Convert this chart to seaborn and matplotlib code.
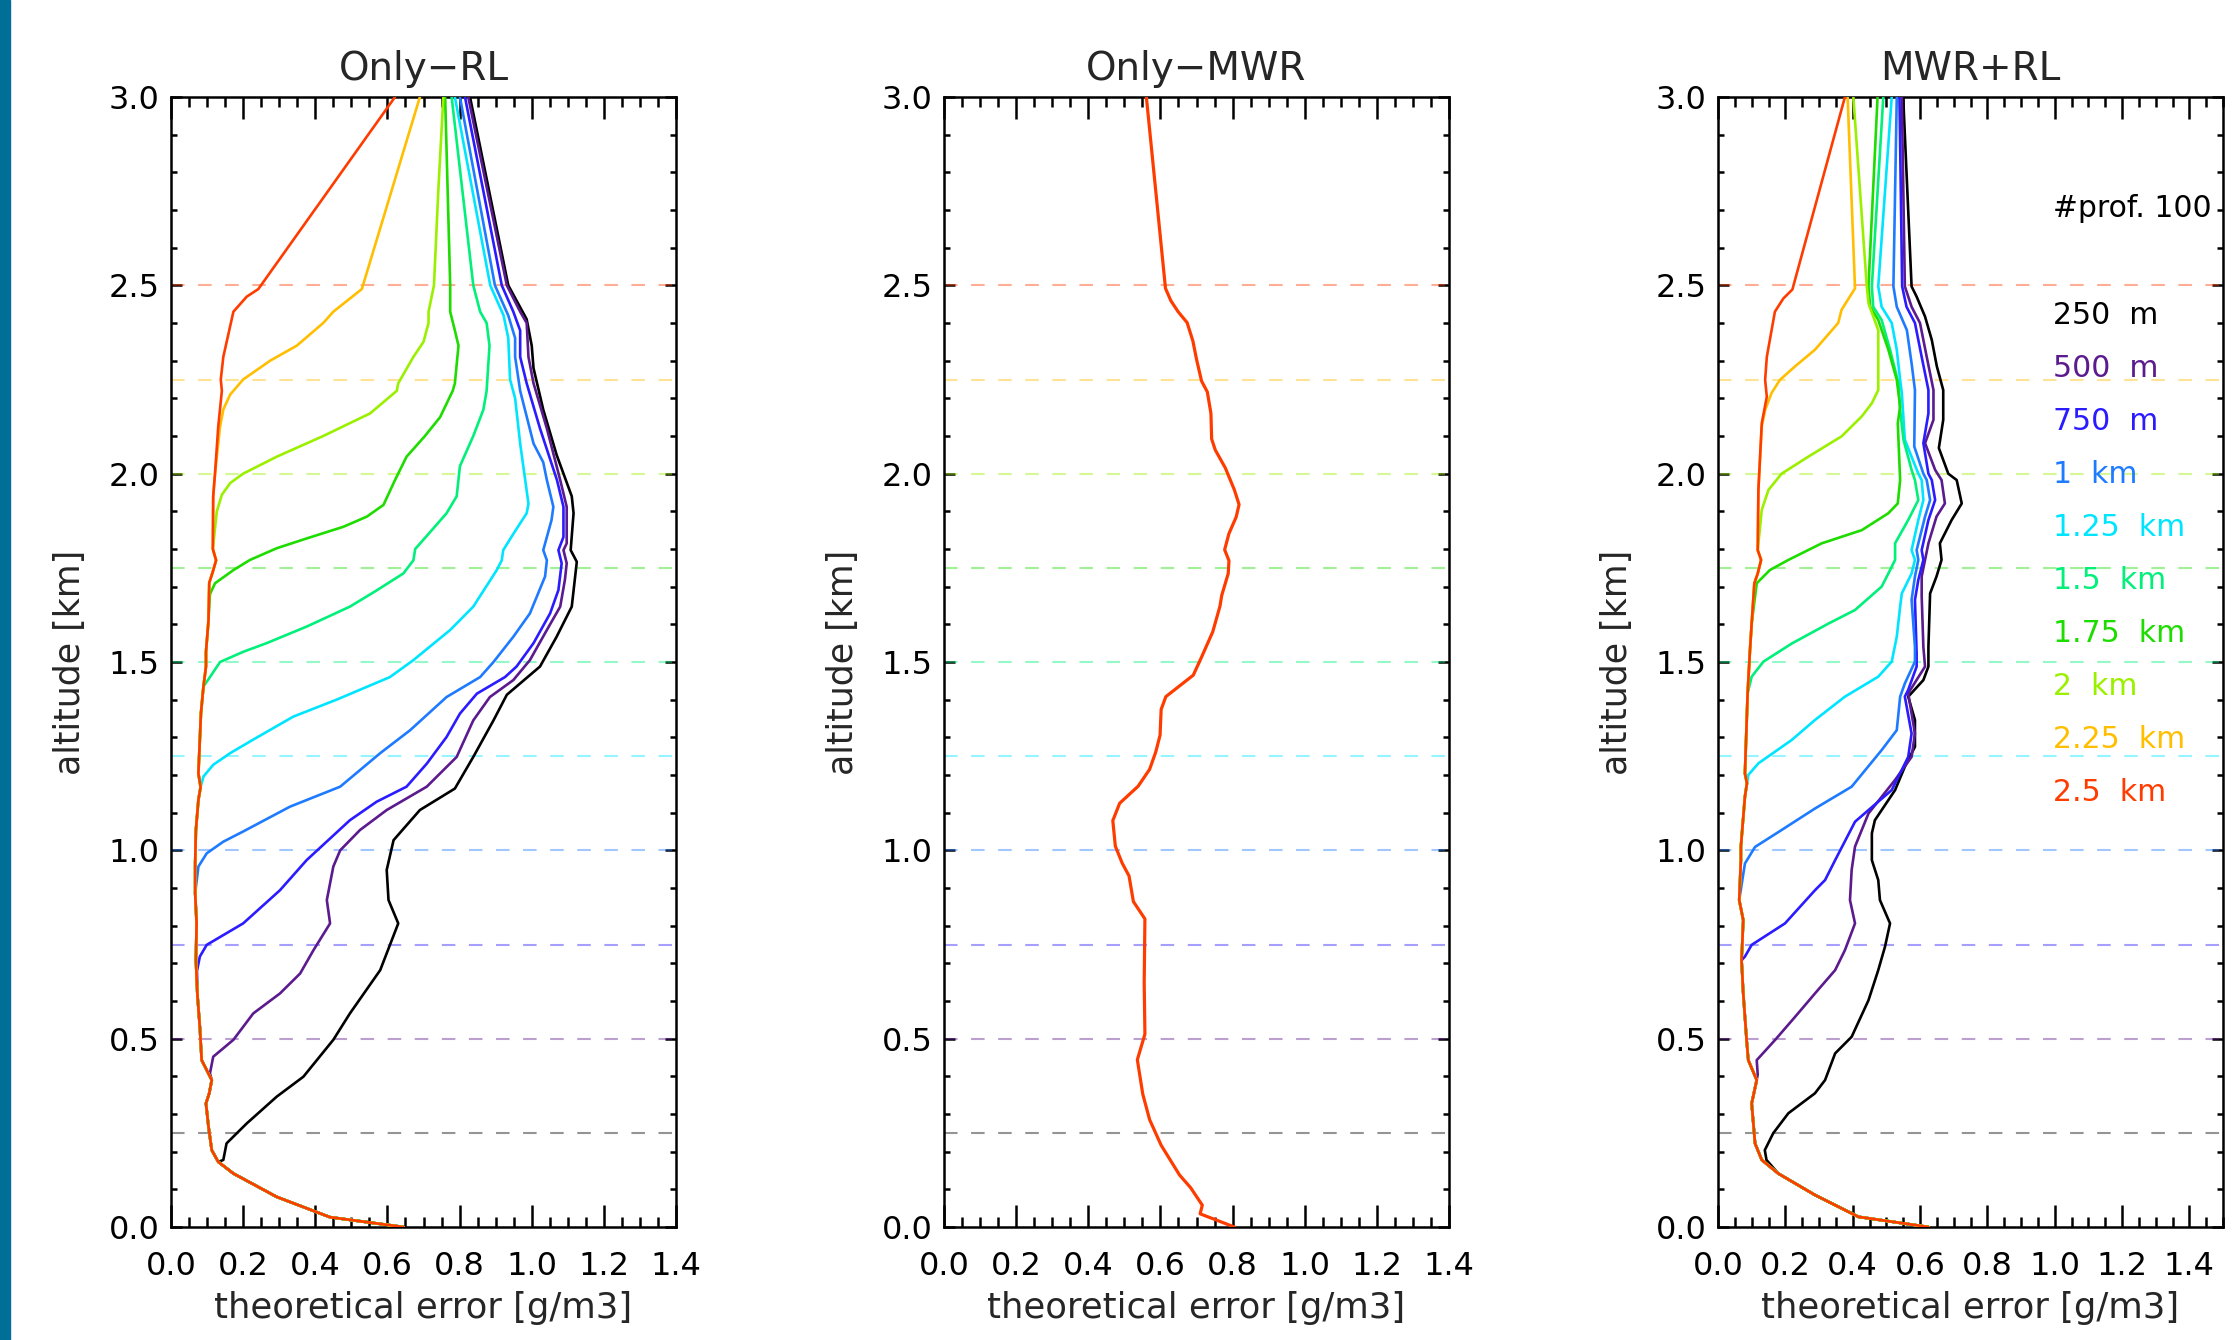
import matplotlib
matplotlib.use("Agg")
import matplotlib.pyplot as plt
from matplotlib.patches import Rectangle
from matplotlib.ticker import MultipleLocator, FormatStrFormatter
import seaborn as sns

# ==========================================
# data
# ==========================================
RES_ALT = [0.25, 0.5, 0.75, 1.0, 1.25, 1.5, 1.75, 2.0, 2.25, 2.5]
RES_LABELS = ["250  m", "500  m", "750  m", "1  km", "1.25  km",
              "1.5  km", "1.75  km", "2  km", "2.25  km", "2.5  km"]
LINE_COLORS = ["#000000", "#5B1A8E", "#2B1BFF", "#1E7BFF", "#00E5FF",
               "#00F07A", "#1EDC00", "#9BF000", "#FFBE00", "#FF3C00"]
N_PROF = 100

# --- Only-RL: low-level profile shared by all runs
RL_BASE_ALT = [0.0, 0.026, 0.08, 0.142, 0.173, 0.204, 0.266, 0.328, 0.355, 0.39, 0.443, 0.53,
               0.62, 0.709, 0.806, 0.886, 0.965, 1.054, 1.134, 1.168, 1.204, 1.364, 1.435,
               1.488, 1.527, 1.611, 1.71, 1.74, 1.77, 1.8, 1.94, 2.0, 2.125, 2.22, 2.25, 2.31]
RL_BASE_ERR = [0.644, 0.441, 0.293, 0.173, 0.131, 0.113, 0.104, 0.097, 0.106, 0.113, 0.085, 0.08,
               0.073, 0.069, 0.071, 0.067, 0.067, 0.069, 0.076, 0.082, 0.076, 0.083, 0.09,
               0.097, 0.097, 0.104, 0.106, 0.116, 0.125, 0.116, 0.117, 0.122, 0.131, 0.141, 0.138, 0.145]

# --- Only-RL: part of each run above the point where it leaves the shared profile
RL_250_ALT = [0.178, 0.222, 0.275, 0.346, 0.399, 0.497, 0.567, 0.682, 0.806, 0.868, 0.948, 1.027,
              1.107, 1.164, 1.248, 1.345, 1.413, 1.488, 1.567, 1.647, 1.766, 1.797, 1.895, 1.94,
              2.05, 2.17, 2.28, 2.34, 2.41, 2.5, 3.0]
RL_250_ERR = [0.145, 0.154, 0.21, 0.293, 0.367, 0.45, 0.496, 0.58, 0.63, 0.603, 0.598, 0.617,
              0.69, 0.787, 0.838, 0.894, 0.931, 1.023, 1.069, 1.111, 1.125, 1.108, 1.116, 1.111,
              1.069, 1.032, 1.005, 1.0, 0.986, 0.935, 0.829]
RL_500_ALT = [0.408, 0.452, 0.497, 0.567, 0.62, 0.673, 0.735, 0.806, 0.868, 0.957, 1.0, 1.054,
              1.107, 1.169, 1.248, 1.345, 1.407, 1.452, 1.505, 1.585, 1.647, 1.718, 1.762, 1.797,
              1.815, 1.912, 1.983, 2.12, 2.24, 2.31, 2.4, 2.43, 2.5, 3.0]
RL_500_ERR = [0.108, 0.117, 0.173, 0.228, 0.302, 0.358, 0.395, 0.441, 0.432, 0.45, 0.469, 0.524,
              0.598, 0.709, 0.792, 0.838, 0.884, 0.949, 0.995, 1.042, 1.079, 1.092, 1.097, 1.088,
              1.097, 1.097, 1.079, 1.042, 1.005, 0.991, 0.986, 0.968, 0.931, 0.824]
RL_750_ALT = [0.68, 0.718, 0.749, 0.806, 0.894, 0.974, 1.08, 1.129, 1.169, 1.23, 1.301, 1.363,
              1.416, 1.46, 1.488, 1.55, 1.629, 1.691, 1.762, 1.797, 1.832, 1.912, 1.983, 2.12,
              2.24, 2.31, 2.38, 2.43, 2.5, 3.0]
RL_750_ERR = [0.072, 0.08, 0.099, 0.2, 0.302, 0.376, 0.496, 0.57, 0.653, 0.709, 0.764, 0.801,
              0.848, 0.926, 0.958, 1.005, 1.051, 1.074, 1.083, 1.074, 1.088, 1.088, 1.07, 1.023,
              0.986, 0.968, 0.968, 0.949, 0.917, 0.815]
RL_1000_ALT = [0.957, 0.992, 1.023, 1.05, 1.116, 1.169, 1.258, 1.319, 1.407, 1.46, 1.5, 1.567,
               1.629, 1.727, 1.77, 1.797, 1.877, 1.912, 1.983, 2.03, 2.08, 2.22, 2.31, 2.36,
               2.42, 2.5, 3.0]
RL_1000_ERR = [0.076, 0.099, 0.145, 0.2, 0.33, 0.469, 0.58, 0.663, 0.764, 0.857, 0.894, 0.949,
               0.995, 1.037, 1.042, 1.032, 1.055, 1.06, 1.042, 1.032, 1.005, 0.968, 0.954, 0.954,
               0.935, 0.898, 0.801]
RL_1250_ALT = [1.196, 1.227, 1.258, 1.294, 1.355, 1.4, 1.46, 1.505, 1.585, 1.647, 1.744, 1.77,
               1.797, 1.84, 1.895, 1.92, 1.983, 2.08, 2.2, 2.25, 2.36, 2.42, 2.5, 3.0]
RL_1250_ERR = [0.09, 0.117, 0.164, 0.228, 0.339, 0.459, 0.607, 0.672, 0.774, 0.838, 0.903, 0.917,
               0.921, 0.949, 0.986, 0.991, 0.982, 0.968, 0.954, 0.94, 0.935, 0.922, 0.885, 0.787]
RL_1500_ALT = [1.46, 1.5, 1.527, 1.55, 1.594, 1.647, 1.69, 1.735, 1.77, 1.8, 1.85, 1.895, 1.94,
               2.02, 2.1, 2.17, 2.22, 2.34, 2.4, 2.43, 2.5, 3.0]
RL_1500_ERR = [0.108, 0.136, 0.2, 0.265, 0.376, 0.496, 0.57, 0.644, 0.672, 0.677, 0.723, 0.764,
               0.792, 0.801, 0.838, 0.866, 0.875, 0.883, 0.875, 0.857, 0.838, 0.778]
RL_1750_ALT = [1.68, 1.709, 1.744, 1.771, 1.802, 1.828, 1.859, 1.886, 1.917, 1.983, 2.045, 2.1,
               2.15, 2.22, 2.24, 2.34, 2.38, 2.43, 2.5, 3.0]
RL_1750_ERR = [0.108, 0.122, 0.173, 0.219, 0.293, 0.376, 0.478, 0.543, 0.589, 0.621, 0.653, 0.704,
               0.746, 0.781, 0.787, 0.797, 0.787, 0.774, 0.774, 0.76]
RL_2000_ALT = [1.9, 1.944, 1.975, 2.0, 2.045, 2.1, 2.16, 2.22, 2.24, 2.31, 2.35, 2.4, 2.43, 2.5,
               2.75, 3.0]
RL_2000_ERR = [0.127, 0.141, 0.164, 0.2, 0.293, 0.422, 0.552, 0.626, 0.63, 0.672, 0.7, 0.714,
               0.714, 0.729, 0.741, 0.755]
RL_2250_ALT = [2.125, 2.17, 2.21, 2.25, 2.3, 2.34, 2.4, 2.43, 2.49, 3.0]
RL_2250_ERR = [0.136, 0.145, 0.164, 0.2, 0.275, 0.349, 0.422, 0.45, 0.529, 0.69]
RL_2500_ALT = [2.43, 2.47, 2.49, 3.0]
RL_2500_ERR = [0.173, 0.21, 0.242, 0.621]

# --- Only-MWR (all runs identical)
MWR_ALT = [0.0, 0.035, 0.058, 0.104, 0.138, 0.217, 0.285, 0.353, 0.444, 0.512, 0.648, 0.818,
           0.864, 0.932, 0.966, 1.011, 1.079, 1.125, 1.17, 1.215, 1.261, 1.306, 1.374, 1.408,
           1.465, 1.513, 1.58, 1.648, 1.677, 1.735, 1.769, 1.798, 1.841, 1.885, 1.918, 1.957,
           2.015, 2.063, 2.092, 2.16, 2.217, 2.246, 2.304, 2.352, 2.401, 2.43, 2.459, 2.492, 3.0]
MWR_ERR = [0.805, 0.71, 0.716, 0.684, 0.653, 0.602, 0.57, 0.551, 0.536, 0.557, 0.555, 0.557,
           0.525, 0.513, 0.494, 0.475, 0.468, 0.487, 0.538, 0.57, 0.587, 0.599, 0.602, 0.615,
           0.691, 0.714, 0.745, 0.765, 0.77, 0.788, 0.79, 0.778, 0.79, 0.81, 0.818, 0.805,
           0.78, 0.752, 0.742, 0.74, 0.73, 0.714, 0.7, 0.69, 0.674, 0.649, 0.629, 0.614, 0.561]

# --- MWR+RL: shared low-level profile
MR_BASE_ALT = [0.0, 0.027, 0.085, 0.142, 0.178, 0.222, 0.328, 0.39, 0.443, 0.496, 0.62, 0.708,
               0.815, 0.868, 0.974, 1.01, 1.143, 1.178, 1.204, 1.417, 1.532, 1.602, 1.709, 1.735,
               1.771, 1.797, 1.957, 2.134, 2.204, 2.249, 2.31]
MR_BASE_ERR = [0.625, 0.417, 0.288, 0.179, 0.13, 0.11, 0.1, 0.115, 0.09, 0.085, 0.075, 0.07,
               0.075, 0.063, 0.068, 0.068, 0.08, 0.086, 0.08, 0.088, 0.095, 0.1, 0.108, 0.118,
               0.128, 0.118, 0.12, 0.13, 0.145, 0.14, 0.145]

MR_250_ALT = [0.178, 0.204, 0.249, 0.302, 0.355, 0.39, 0.461, 0.505, 0.602, 0.682, 0.744, 0.806,
              0.868, 0.921, 0.974, 1.045, 1.08, 1.16, 1.222, 1.275, 1.346, 1.408, 1.452, 1.488,
              1.54, 1.682, 1.727, 1.771, 1.815, 1.877, 1.921, 1.983, 2.0, 2.068, 2.143, 2.222,
              2.285, 2.355, 2.417, 2.47, 2.497, 3.0]
MR_250_ERR = [0.144, 0.139, 0.164, 0.209, 0.288, 0.318, 0.348, 0.397, 0.447, 0.476, 0.496, 0.511,
              0.481, 0.476, 0.457, 0.457, 0.466, 0.526, 0.555, 0.585, 0.585, 0.565, 0.61, 0.625,
              0.625, 0.63, 0.649, 0.664, 0.659, 0.694, 0.724, 0.709, 0.684, 0.656, 0.669, 0.669,
              0.65, 0.635, 0.615, 0.59, 0.575, 0.55]
MR_500_ALT = [0.405, 0.443, 0.496, 0.558, 0.62, 0.682, 0.735, 0.806, 0.868, 0.948, 1.01, 1.098,
              1.187, 1.248, 1.31, 1.363, 1.417, 1.488, 1.54, 1.674, 1.727, 1.793, 1.815, 1.886,
              1.921, 1.983, 2.01, 2.081, 2.143, 2.222, 2.31, 2.4, 2.443, 2.497, 3.0]
MR_500_ERR = [0.118, 0.115, 0.169, 0.229, 0.288, 0.348, 0.377, 0.407, 0.392, 0.397, 0.407, 0.447,
              0.526, 0.575, 0.585, 0.575, 0.565, 0.615, 0.61, 0.605, 0.605, 0.62, 0.625, 0.649,
              0.674, 0.664, 0.645, 0.615, 0.64, 0.64, 0.62, 0.6, 0.575, 0.555, 0.546]
MR_750_ALT = [0.718, 0.749, 0.806, 0.894, 0.921, 0.974, 1.076, 1.16, 1.248, 1.31, 1.408, 1.426,
              1.488, 1.523, 1.665, 1.718, 1.771, 1.797, 1.877, 1.93, 1.983, 2.0, 2.081, 2.16,
              2.222, 2.31, 2.4, 2.443, 2.497, 3.0]
MR_750_ERR = [0.08, 0.1, 0.199, 0.288, 0.318, 0.348, 0.407, 0.516, 0.565, 0.575, 0.555, 0.565,
              0.59, 0.59, 0.585, 0.595, 0.61, 0.605, 0.625, 0.645, 0.635, 0.625, 0.61, 0.625,
              0.625, 0.605, 0.585, 0.56, 0.547, 0.539]
MR_1000_ALT = [0.965, 1.009, 1.054, 1.111, 1.169, 1.266, 1.319, 1.408, 1.443, 1.501, 1.54, 1.665,
               1.727, 1.771, 1.797, 1.886, 1.93, 1.983, 2.0, 2.072, 2.222, 2.293, 2.381, 2.443,
               2.497, 3.0]
MR_1000_ERR = [0.08, 0.11, 0.189, 0.288, 0.397, 0.486, 0.531, 0.541, 0.555, 0.585, 0.585, 0.575,
               0.585, 0.595, 0.59, 0.615, 0.63, 0.62, 0.61, 0.583, 0.585, 0.575, 0.561, 0.531,
               0.521, 0.531]
MR_1250_ALT = [1.2, 1.231, 1.293, 1.346, 1.408, 1.461, 1.501, 1.567, 1.647, 1.682, 1.735, 1.771,
               1.797, 1.877, 1.93, 1.983, 2.0, 2.09, 2.214, 2.249, 2.329, 2.4, 2.443, 2.497, 3.0]
MR_1250_ERR = [0.09, 0.12, 0.219, 0.288, 0.377, 0.476, 0.516, 0.531, 0.541, 0.546, 0.575, 0.585,
               0.575, 0.595, 0.61, 0.605, 0.595, 0.555, 0.546, 0.541, 0.531, 0.516, 0.486, 0.476,
               0.516]
MR_1500_ALT = [1.461, 1.501, 1.549, 1.602, 1.638, 1.7, 1.735, 1.771, 1.815, 1.877, 1.93, 1.983,
               2.01, 2.09, 2.169, 2.24, 2.329, 2.408, 2.443, 2.497, 3.0]
MR_1500_ERR = [0.1, 0.135, 0.219, 0.328, 0.407, 0.486, 0.506, 0.526, 0.526, 0.565, 0.595, 0.585,
               0.575, 0.551, 0.541, 0.536, 0.511, 0.486, 0.461, 0.457, 0.491]
MR_1750_ALT = [1.709, 1.744, 1.771, 1.815, 1.85, 1.895, 1.921, 1.983, 2.134, 2.178, 2.249, 2.329,
               2.408, 2.443, 2.497, 3.0]
MR_1750_ERR = [0.115, 0.154, 0.209, 0.308, 0.427, 0.506, 0.534, 0.541, 0.534, 0.541, 0.531, 0.506,
               0.476, 0.452, 0.447, 0.474]
MR_2000_ALT = [1.904, 1.957, 2.0, 2.045, 2.099, 2.152, 2.187, 2.222, 2.381, 2.452, 2.497, 3.0]
MR_2000_ERR = [0.13, 0.15, 0.189, 0.268, 0.367, 0.427, 0.457, 0.476, 0.476, 0.447, 0.442, 0.402]
MR_2250_ALT = [2.125, 2.169, 2.214, 2.249, 2.285, 2.329, 2.4, 2.435, 2.492, 3.0]
MR_2250_ERR = [0.13, 0.14, 0.159, 0.184, 0.229, 0.288, 0.357, 0.367, 0.407, 0.385]
MR_2500_ALT = [2.43, 2.465, 2.489, 3.0]
MR_2500_ERR = [0.169, 0.194, 0.221, 0.377]

RL_SEGMENTS = [(RL_250_ALT, RL_250_ERR), (RL_500_ALT, RL_500_ERR), (RL_750_ALT, RL_750_ERR),
               (RL_1000_ALT, RL_1000_ERR), (RL_1250_ALT, RL_1250_ERR), (RL_1500_ALT, RL_1500_ERR),
               (RL_1750_ALT, RL_1750_ERR), (RL_2000_ALT, RL_2000_ERR), (RL_2250_ALT, RL_2250_ERR),
               (RL_2500_ALT, RL_2500_ERR)]
MR_SEGMENTS = [(MR_250_ALT, MR_250_ERR), (MR_500_ALT, MR_500_ERR), (MR_750_ALT, MR_750_ERR),
               (MR_1000_ALT, MR_1000_ERR), (MR_1250_ALT, MR_1250_ERR), (MR_1500_ALT, MR_1500_ERR),
               (MR_1750_ALT, MR_1750_ERR), (MR_2000_ALT, MR_2000_ERR), (MR_2250_ALT, MR_2250_ERR),
               (MR_2500_ALT, MR_2500_ERR)]


def join_profile(base_alt, base_err, seg_alt, seg_err):
    """shared low part + run-specific upper part"""
    keep = [i for i, a in enumerate(base_alt) if a < seg_alt[0]]
    return ([base_alt[i] for i in keep] + seg_alt,
            [base_err[i] for i in keep] + seg_err)


# ==========================================
# style
# ==========================================
sns.set_style("ticks")
plt.rcParams['font.family'] = ['DejaVu Sans']
plt.rcParams['axes.edgecolor'] = 'black'
plt.rcParams['axes.linewidth'] = 1.8
plt.rcParams['xtick.color'] = 'black'
plt.rcParams['ytick.color'] = 'black'

W, H = 2232, 1340
fig = plt.figure(figsize=(W / 100, H / 100), dpi=100)
fig.patches.append(Rectangle((0, 0), 10 / W, 1, transform=fig.transFigure,
                             color="#006F98", zorder=0))

AX_LEFT_PX = [171, 944, 1718]
AX_W_PX, AX_BOTTOM_PX, AX_H_PX = 505, 113, 1130
TITLES = ["Only\u2212RL", "Only\u2212MWR", "MWR+RL"]
XMAX = [1.4, 1.4, 1.5]

axes = []
for left, title, xmax in zip(AX_LEFT_PX, TITLES, XMAX):
    ax = fig.add_axes([left / W, AX_BOTTOM_PX / H, AX_W_PX / W, AX_H_PX / H])
    ax.set_xlim(0, xmax)
    ax.set_ylim(0, 3.0)
    ax.xaxis.set_major_locator(MultipleLocator(0.2))
    ax.xaxis.set_minor_locator(MultipleLocator(0.05))
    ax.yaxis.set_major_locator(MultipleLocator(0.5))
    ax.yaxis.set_minor_locator(MultipleLocator(0.1))
    ax.xaxis.set_major_formatter(FormatStrFormatter('%.1f'))
    ax.yaxis.set_major_formatter(FormatStrFormatter('%.1f'))
    ax.tick_params(axis='x', which='major', direction='in', length=15.5, width=1.8,
                   top=True, labelsize=23, pad=17)
    ax.tick_params(axis='x', which='minor', direction='in', length=7.5, width=1.8, top=True)
    ax.tick_params(axis='y', which='major', direction='in', length=8, width=1.8,
                   right=True, labelsize=23, pad=8)
    ax.tick_params(axis='y', which='minor', direction='in', length=4.3, width=1.8, right=True)
    for sp in ax.spines.values():
        sp.set_linewidth(1.8)
        sp.set_color('black')
    ax.set_title(title, fontsize=28, pad=12)
    ax.set_xlabel("theoretical error [g/m3]", fontsize=25.5, labelpad=7)
    ax.set_ylabel("altitude [km]", fontsize=25, labelpad=16)
    # dashed marker lines at each overlap height
    for h, c in zip(RES_ALT, LINE_COLORS):
        ax.axhline(h, color=c, alpha=0.42, lw=1.5, ls=(0, (6.5, 6.5)), zorder=1)
    axes.append(ax)

# ---- Only-RL
for (seg_alt, seg_err), c in zip(RL_SEGMENTS, LINE_COLORS):
    alt, err = join_profile(RL_BASE_ALT, RL_BASE_ERR, seg_alt, seg_err)
    sns.lineplot(x=err, y=alt, sort=False, estimator=None, orient="y",
                 color=c, lw=1.9, ax=axes[0], zorder=3)

# ---- Only-MWR
sns.lineplot(x=MWR_ERR, y=MWR_ALT, sort=False, estimator=None, orient="y",
             color=LINE_COLORS[-1], lw=2.3, ax=axes[1], zorder=3)

# ---- MWR+RL
for (seg_alt, seg_err), c in zip(MR_SEGMENTS, LINE_COLORS):
    alt, err = join_profile(MR_BASE_ALT, MR_BASE_ERR, seg_alt, seg_err)
    sns.lineplot(x=err, y=alt, sort=False, estimator=None, orient="y",
                 color=c, lw=1.9, ax=axes[2], zorder=3)

# text legend in the last panel
ax = axes[2]
ax.text(0.664, 0.901, f"#prof. {N_PROF}", transform=ax.transAxes, fontsize=21.5,
        ha='left', va='center', color='black')
for i, (lab, c) in enumerate(zip(RES_LABELS, LINE_COLORS)):
    ax.text(0.664, 0.807 - i * 0.0469, lab, transform=ax.transAxes, fontsize=21.5,
            ha='left', va='center', color=c)

for ax in axes:
    if ax.get_legend() is not None:
        ax.get_legend().remove()

fig.savefig("out.png", dpi=100)
